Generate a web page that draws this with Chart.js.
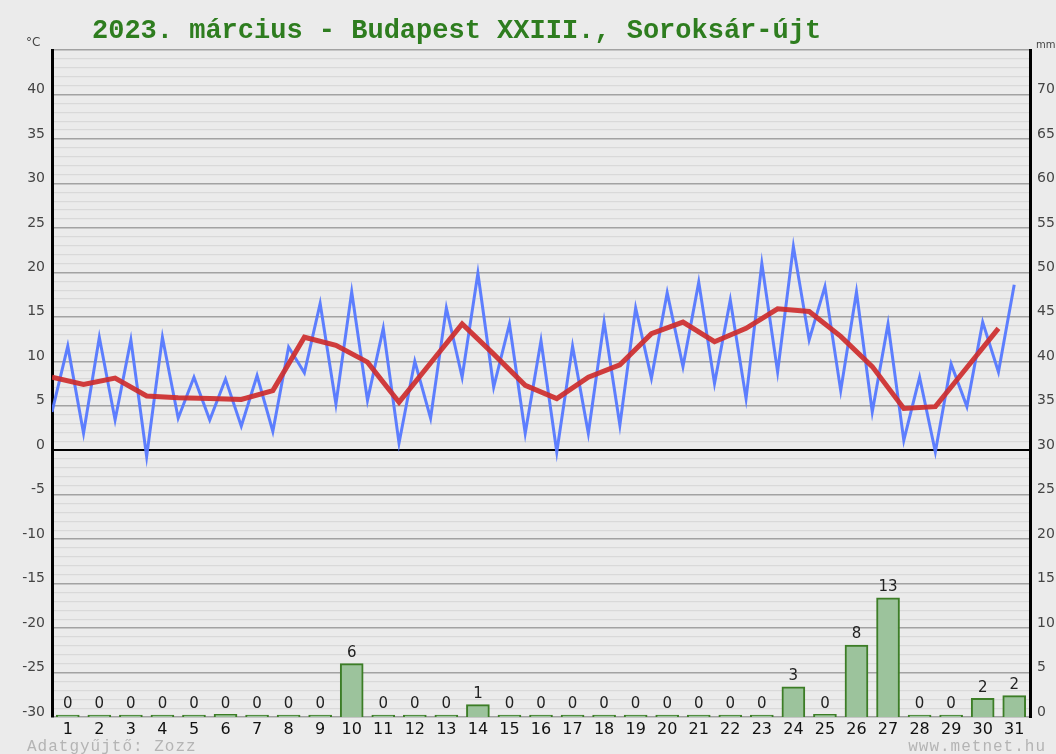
<!DOCTYPE html>
<html>
<head>
<meta charset="utf-8">
<script src="https://cdn.jsdelivr.net/npm/chart.js@4/dist/chart.umd.min.js"></script>
<style>
  body { margin: 0; background: #ebebeb; }
  canvas { display: block; }
</style>
</head>
<body>
<canvas id="metChart" width="1056" height="754"></canvas>
<script>
// days of the month
const days = ['1','2','3','4','5','6','7','8','9','10','11','12','13','14','15','16',
              '17','18','19','20','21','22','23','24','25','26','27','28','29','30','31'];

// temperature min/max zigzag, two points per day (°C)
const tempMinMax = [
  4.3, 11.7, 1.9, 12.7, 3.4, 12.4, -0.7, 12.7, 3.6, 8.2,
  3.4, 8.0, 2.7, 8.4, 2.1, 11.6, 8.7, 16.5, 5.2, 17.8,
  5.6, 13.7, 0.8, 10.0, 3.6, 16.0, 8.2, 19.9, 7.1, 14.2,
  1.9, 12.3, -0.2, 11.7, 1.9, 14.4, 2.8, 16.0, 8.1, 17.7,
  9.4, 18.9, 7.5, 16.9, 5.8, 21.0, 8.8, 22.9, 12.4, 18.4,
  6.7, 17.8, 4.3, 14.2, 1.1, 8.2, -0.2, 9.7, 4.9, 14.4,
  8.8, 18.6
];

// daily mean temperature (°C)
const tempMean = [
  8.2, 7.4, 8.1, 6.1, 5.9, 5.8, 5.7, 6.7, 12.7, 11.8,
  9.9, 5.4, 9.8, 14.2, 10.8, 7.3, 5.8, 8.2, 9.6, 13.1,
  14.4, 12.2, 13.7, 15.9, 15.6, 12.8, 9.4, 4.7, 4.9, 9.3,
  13.7
];

// daily precipitation (mm)
const precip = [
  0, 0, 0, 0, 0, 0.3, 0, 0, 0, 6.0,
  0, 0, 0, 1.4, 0, 0, 0, 0, 0, 0,
  0, 0, 0, 3.4, 0.3, 8.1, 13.4, 0, 0, 2.1,
  2.4
];

const leftTicks = [-30, -25, -20, -15, -10, -5, 0, 5, 10, 15, 20, 25, 30, 35, 40];
const rightTicks = [0, 5, 10, 15, 20, 25, 30, 35, 40, 45, 50, 55, 60, 65, 70];

const maxMinData = tempMinMax.map((v, i) => ({ x: 0.5 + i * 0.5, y: v }));
const meanData = tempMean.map((v, i) => ({ x: 0.5 + i, y: v }));

const decorations = {
  id: 'decorations',
  afterDatasetsDraw(chart) {
    const ctx = chart.ctx;
    const meta = chart.getDatasetMeta(2);
    ctx.save();
    ctx.fillStyle = '#222';
    ctx.font = '15px "DejaVu Sans"';
    ctx.textAlign = 'center';
    ctx.textBaseline = 'bottom';
    meta.data.forEach((bar, i) => {
      ctx.fillText(String(Math.round(precip[i])), bar.x, bar.y - 3);
    });
    ctx.restore();
  },
  afterDraw(chart) {
    const ctx = chart.ctx;
    ctx.save();
    ctx.textBaseline = 'alphabetic';
    ctx.fillStyle = '#2e7d1f';
    ctx.font = 'bold 27px "Liberation Mono"';
    ctx.textAlign = 'left';
    ctx.fillText('2023. március - Budapest XXIII., Soroksár-újt', 92, 38);

    ctx.fillStyle = '#444';
    ctx.font = '12px "DejaVu Sans"';
    ctx.fillText('°C', 26, 46);
    ctx.font = '10px "DejaVu Sans"';
    ctx.fillText('mm', 1036, 48);

    ctx.fillStyle = '#b4b4b4';
    ctx.font = '16px "Liberation Mono"';
    ctx.letterSpacing = '1px';
    ctx.fillText('Adatgyűjtő: Zozz', 27, 751);
    ctx.textAlign = 'right';
    ctx.fillText('www.metnet.hu', 1046, 751);
    ctx.restore();
  }
};

new Chart(document.getElementById('metChart'), {
  type: 'bar',
  data: {
    labels: days,
    datasets: [
      {
        type: 'line',
        label: 'Átlag',
        data: meanData,
        xAxisID: 'xl',
        yAxisID: 'y',
        borderColor: 'rgba(205, 45, 45, 0.92)',
        borderWidth: 5,
        pointRadius: 0,
        tension: 0,
        order: 0
      },
      {
        type: 'line',
        label: 'Min/Max',
        data: maxMinData,
        xAxisID: 'xl',
        yAxisID: 'y',
        borderColor: 'rgba(85, 120, 255, 0.95)',
        borderWidth: 3,
        pointRadius: 0,
        tension: 0,
        order: 1
      },
      {
        type: 'bar',
        label: 'Csapadék',
        data: precip,
        xAxisID: 'x',
        yAxisID: 'y2',
        backgroundColor: '#9cc39c',
        borderColor: '#3c7d26',
        borderWidth: 2,
        borderSkipped: 'start',
        minBarLength: 2,
        barThickness: 23,
        grouped: false,
        order: 2
      }
    ]
  },
  options: {
    responsive: false,
    animation: false,
    layout: { padding: { top: 50, left: 0, right: 0, bottom: 0 } },
    plugins: {
      legend: { display: false },
      tooltip: { enabled: false },
      title: { display: false }
    },
    scales: {
      x: {
        type: 'category',
        position: 'bottom',
        offset: true,
        grid: { display: false, drawTicks: false },
        border: { display: false },
        ticks: {
          color: '#111',
          font: { family: 'DejaVu Sans', size: 16 },
          padding: 3,
          maxRotation: 0,
          autoSkip: false
        },
        afterFit(scale) { scale.height = 37; }
      },
      xl: {
        type: 'linear',
        display: false,
        offset: false,
        min: 0.5,
        max: 31.5
      },
      y: {
        type: 'linear',
        position: 'left',
        min: -30,
        max: 45,
        grid: {
          drawTicks: false,
          color: ctx => ctx.tick.value === 0 ? '#000' : (ctx.tick.value % 5 === 0 ? '#a2a2a2' : '#d9d9d9'),
          lineWidth: ctx => ctx.tick.value === 0 ? 2 : (ctx.tick.value % 5 === 0 ? 1.5 : 1.2)
        },
        border: { display: true, color: '#000', width: 3 },
        ticks: {
          stepSize: 1,
          autoSkip: false,
          color: '#444',
          font: { family: 'DejaVu Sans', size: 14 },
          padding: 7,
          labelOffset: -5,
          callback: v => leftTicks.includes(v) ? String(v) : ''
        },
        afterFit(scale) { scale.width = 52; }
      },
      y2: {
        type: 'linear',
        position: 'right',
        min: 0,
        max: 75,
        grid: { display: false, drawTicks: false },
        border: { display: true, color: '#000', width: 3 },
        ticks: {
          stepSize: 5,
          autoSkip: false,
          color: '#444',
          font: { family: 'DejaVu Sans', size: 14 },
          padding: 7,
          labelOffset: -5,
          callback: v => rightTicks.includes(v) ? String(v) : ''
        },
        afterFit(scale) { scale.width = 26; }
      }
    }
  },
  plugins: [decorations]
});
</script>
</body>
</html>
